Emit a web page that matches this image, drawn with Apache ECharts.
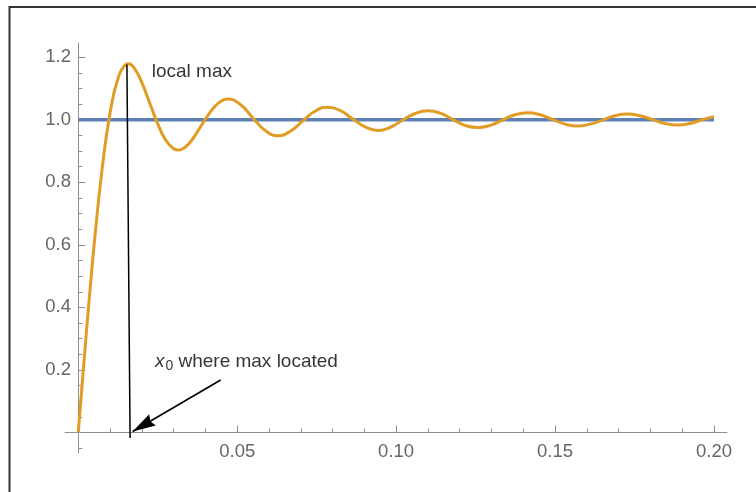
<!DOCTYPE html>
<html>
<head>
<meta charset="utf-8">
<script src="https://cdn.jsdelivr.net/npm/echarts@6/dist/echarts.min.js"></script>
<style>
html,body{margin:0;padding:0;background:#fff;}
#chart{width:756px;height:492px;}
</style>
</head>
<body>
<div id="chart"></div>
<script>
// ---- data ----
var curveX = [0, 0.00125, 0.0025, 0.00375, 0.005, 0.0075, 0.01, 0.0125, 0.015, 0.0157, 0.0175, 0.02, 0.0225, 0.025, 0.0275, 0.03, 0.0314, 0.0325, 0.035, 0.0375, 0.04, 0.0425, 0.045,
  0.0471, 0.0511, 0.0550, 0.0589, 0.0628, 0.0668, 0.0707, 0.0746, 0.0785, 0.0825, 0.0864, 0.0903, 0.0942, 0.0982, 0.1021, 0.1060, 0.1100, 0.1139, 0.1178, 0.1217, 0.1257, 0.1296, 0.1335, 0.1374, 0.1414, 0.1453, 0.1492, 0.1532, 0.1571, 0.1610, 0.1649, 0.1689, 0.1728, 0.1767, 0.1806, 0.1846, 0.1885, 0.1924, 0.1963,
  0.2];
var curveY = [0, 0.159, 0.314, 0.463, 0.602, 0.843, 1.022, 1.132, 1.177, 1.179, 1.167, 1.119, 1.053, 0.987, 0.935, 0.907, 0.903, 0.905, 0.926, 0.962, 1.002, 1.037, 1.060,
  1.066, 1.048, 1.005, 0.965, 0.949, 0.964, 0.997, 1.028, 1.040, 1.029, 1.002, 0.977, 0.966, 0.976, 0.999, 1.020, 1.029, 1.021, 1.001, 0.982, 0.975, 0.982, 0.999, 1.016, 1.022, 1.016, 1.001, 0.986, 0.980, 0.986, 0.999, 1.013, 1.018, 1.013, 1.001, 0.988, 0.983, 0.988, 1.000,
  1.010];
var limitX = [0, 0.2];
var limitY = [1, 1];
var maxLineX = [0.0153, 0.0163];
var maxLineY = [1.177, -0.018];
var arrowX = [0.0448, 0.0171];
var arrowY = [0.168, 0.003];
var noteLocalMax = {text: 'local max', x: 0.0231, y: 1.1536};
var noteX0 = {x: 0.0241, y: 0.2266};
var xMajor = [0.05, 0.10, 0.15, 0.20];
var xMinor = [0.01, 0.02, 0.03, 0.04, 0.06, 0.07, 0.08, 0.09, 0.11, 0.12, 0.13, 0.14, 0.16, 0.17, 0.18, 0.19];
var yMajor = [0.2, 0.4, 0.6, 0.8, 1.0, 1.2];
var yMinor = [-0.05, 0.05, 0.1, 0.15, 0.25, 0.3, 0.35, 0.45, 0.5, 0.55, 0.65, 0.7, 0.75, 0.85, 0.9, 0.95, 1.05, 1.1, 1.15];
var xRange = [-0.00418, 0.2041];
var yRange = [-0.0656, 1.2454];

function pairs(xs, ys){ return xs.map(function(x,i){ return [x, ys[i]]; }); }

var FONT = '"Liberation Sans", Arial, sans-serif';
var AXIS = '#8f8f8f';
var ARROW_HEAD = 'path://M6,0 L12,22 L6,19.5 L0,22 Z';
var chart = echarts.init(document.getElementById('chart'), null, {renderer:'canvas'});

function xAxisDef(minor){
  return {
    type:'value', position:'bottom', min:xRange[0], max:xRange[1],
    axisLine:{show:!minor, onZero:true, lineStyle:{color:AXIS, width:1}},
    axisTick:{show:true, inside:true, length: minor?4:7, customValues: minor?xMinor:xMajor, lineStyle:{color:AXIS, width:1}},
    axisLabel:{show:!minor, customValues:xMajor, margin:-11, color:'#666', fontSize:18.5, fontFamily:FONT,
      formatter:function(v){ return v.toFixed(2); }},
    splitLine:{show:false}
  };
}
function yAxisDef(minor){
  return {
    type:'value', position:'left', min:yRange[0], max:yRange[1],
    axisLine:{show:!minor, onZero:true, lineStyle:{color:AXIS, width:1}},
    axisTick:{show:true, inside:true, length: minor?4:7, customValues: minor?yMinor:yMajor, lineStyle:{color:AXIS, width:1}},
    axisLabel:{show:!minor, customValues:yMajor, margin:-6, color:'#666', fontSize:18.5, fontFamily:FONT,
      formatter:function(v){ return v.toFixed(1); }},
    splitLine:{show:false}
  };
}

chart.setOption({
  animation:false,
  textStyle:{fontFamily:FONT},
  grid:{left:65, right:29, top:43, bottom:39, containLabel:false},
  xAxis:[xAxisDef(false), xAxisDef(true)],
  yAxis:[yAxisDef(false), yAxisDef(true)],
  graphic:[{type:'rect', silent:true, shape:{x:9.5, y:7, width:800, height:600},
    style:{fill:'none', stroke:'#333', lineWidth:2}}],
  series:[
    {type:'line', name:'limit', data:pairs(limitX, limitY), showSymbol:false, symbol:'none',
      lineStyle:{color:'#5E81B5', width:3.5}, z:2},
    {type:'line', name:'partial sum', data:pairs(curveX, curveY), showSymbol:false, symbol:'none', smooth:true,
      lineStyle:{color:'#E19C24', width:3}, z:3},
    {type:'line', name:'max line', data:pairs(maxLineX, maxLineY), showSymbol:false, symbol:'none',
      lineStyle:{color:'#000', width:1.5}, z:4,
      markLine:{silent:true, animation:false, symbol:['none','arrow'],
        label:{show:false}, lineStyle:{color:'#000', width:1.6, type:'solid'},
        itemStyle:{color:'#000'},
        data:[[{coord:[arrowX[0], arrowY[0]], symbol:'none'},
               {coord:[arrowX[1], arrowY[1]], symbol:ARROW_HEAD, symbolSize:[13, 23], symbolKeepAspect:false,
                symbolOffset:[0, 11.5], itemStyle:{color:'#000'}}]]}},
    {type:'scatter', name:'notes', symbolSize:0, z:5,
      data:[{value:[noteLocalMax.x, noteLocalMax.y], label:{formatter:noteLocalMax.text}},
            {value:[noteX0.x, noteX0.y], label:{formatter:'{i|x}{s|0}{n| where max located}',
              rich:{i:{fontStyle:'italic', fontSize:19, color:'#000', fontFamily:FONT, verticalAlign:'middle'},
                    s:{fontSize:14, color:'#000', fontFamily:FONT, padding:[10,0,0,1], verticalAlign:'middle'},
                    n:{fontSize:19, color:'#000', fontFamily:FONT, verticalAlign:'middle'}}}}],
      label:{show:true, position:'right', distance:0, color:'#000', fontSize:19, fontFamily:FONT}}
  ]
});
</script>
</body>
</html>
